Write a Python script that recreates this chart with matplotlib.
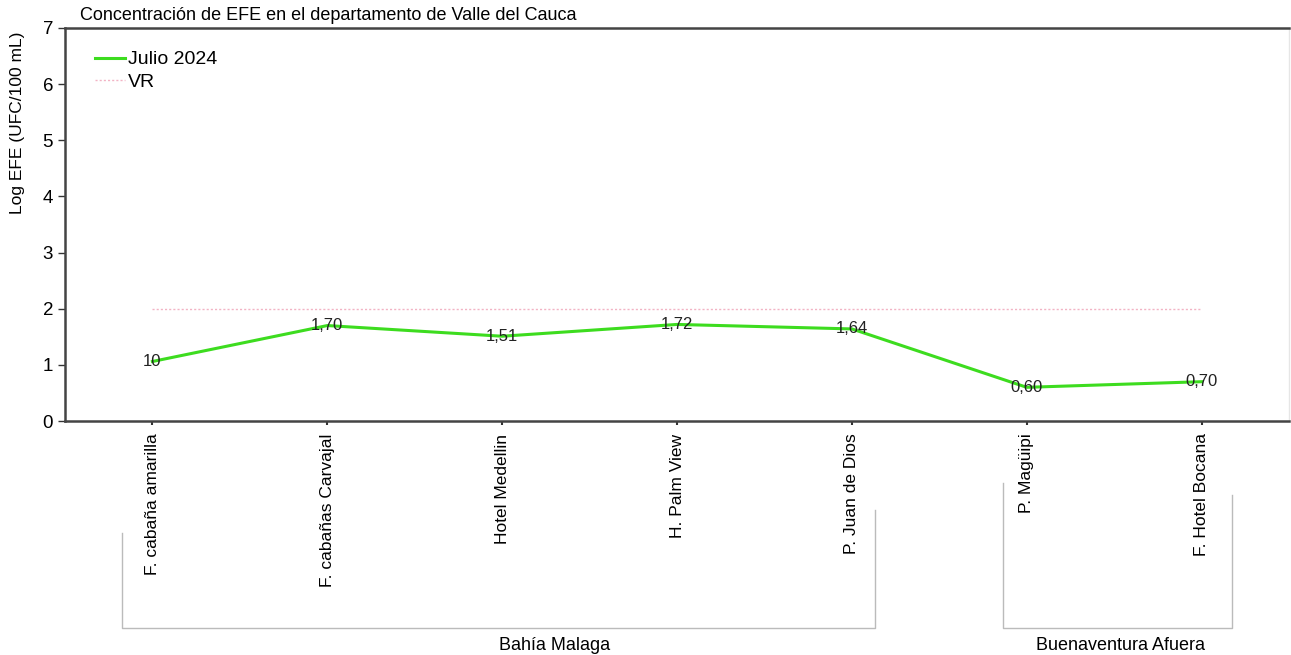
import matplotlib.pyplot as plt
from matplotlib.lines import Line2D

plt.rcParams['font.family'] = ['Liberation Sans', 'DejaVu Sans']

sites = ["F. cabaña amarilla", "F. cabañas Carvajal", "Hotel Medellin", "H. Palm View",
         "P. Juan de Dios", "P. Magüipi", "F. Hotel Bocana"]
julio_2024 = [1.06, 1.70, 1.51, 1.72, 1.64, 0.60, 0.70]
point_labels = ["10", "1,70", "1,51", "1,72", "1,64", "0,60", "0,70"]
vr_value = 2
zones = ["Bahía Malaga", "Buenaventura Afuera"]

W, H = 1291, 655
fig = plt.figure(figsize=(W / 100, H / 100), dpi=100)
ax = fig.add_axes([65 / W, 1 - 421 / H, (1289 - 65) / W, (421 - 28) / H])

x = list(range(len(sites)))
ax.plot(x, julio_2024, color="#3ddc1f", lw=2.2, label="Julio 2024", zorder=3)
ax.plot(x, [vr_value] * len(x), color="#f2b3c4", lw=1, ls=(0, (1.5, 1.5)), label="VR", zorder=2)
for xi, yi, lab in zip(x, julio_2024, point_labels):
    ax.text(xi, yi, lab, ha="center", va="center", fontsize=12, color="#222222", zorder=4)

ax.set_xlim(-0.5, 6.5)
ax.set_ylim(0, 7)
ax.set_yticks(range(0, 8))
ax.set_xticks(x)
ax.set_xticklabels(sites, rotation=90, va="top", fontsize=12.5)
ax.tick_params(axis="y", labelsize=13.5, length=5, width=1, color="#333333")
ax.tick_params(axis="x", length=3, width=1.5, color="#333333", pad=6)
ax.set_ylabel("Log EFE (UFC/100 mL)", fontsize=12.5)
ax.yaxis.set_label_coords(-40 / 1224, 0.76)

for side in ["left", "top", "bottom"]:
    ax.spines[side].set_color("#444444")
    ax.spines[side].set_linewidth(1.8)
ax.spines["right"].set_color("#e6e6e6")
ax.spines["right"].set_linewidth(1)

ax.legend(loc="upper left", bbox_to_anchor=(0.018, 0.962), frameon=False, fontsize=14,
          handlelength=1.55, handletextpad=0.15, labelspacing=0.25, borderaxespad=0)

fig.text(80 / W, 1 - 15 / H, "Concentración de EFE en el departamento de Valle del Cauca",
         ha="left", va="center", fontsize=13)

# group brackets below the axis (pixel positions)
brackets = [(122, 875, 533, 510, 555), (1003, 1232, 483, 495, 1120)]
for (xl, xr, yl, yr, xt), zone in zip(brackets, zones):
    pts_x = [xl / W, xl / W, xr / W, xr / W]
    pts_y = [1 - yl / H, 1 - 628 / H, 1 - 628 / H, 1 - yr / H]
    fig.add_artist(Line2D(pts_x, pts_y, color="#bbbbbb", lw=1))
    fig.text(xt / W, 1 - 645 / H, zone, ha="center", va="center", fontsize=13)

fig.savefig("out.png", dpi=100)
